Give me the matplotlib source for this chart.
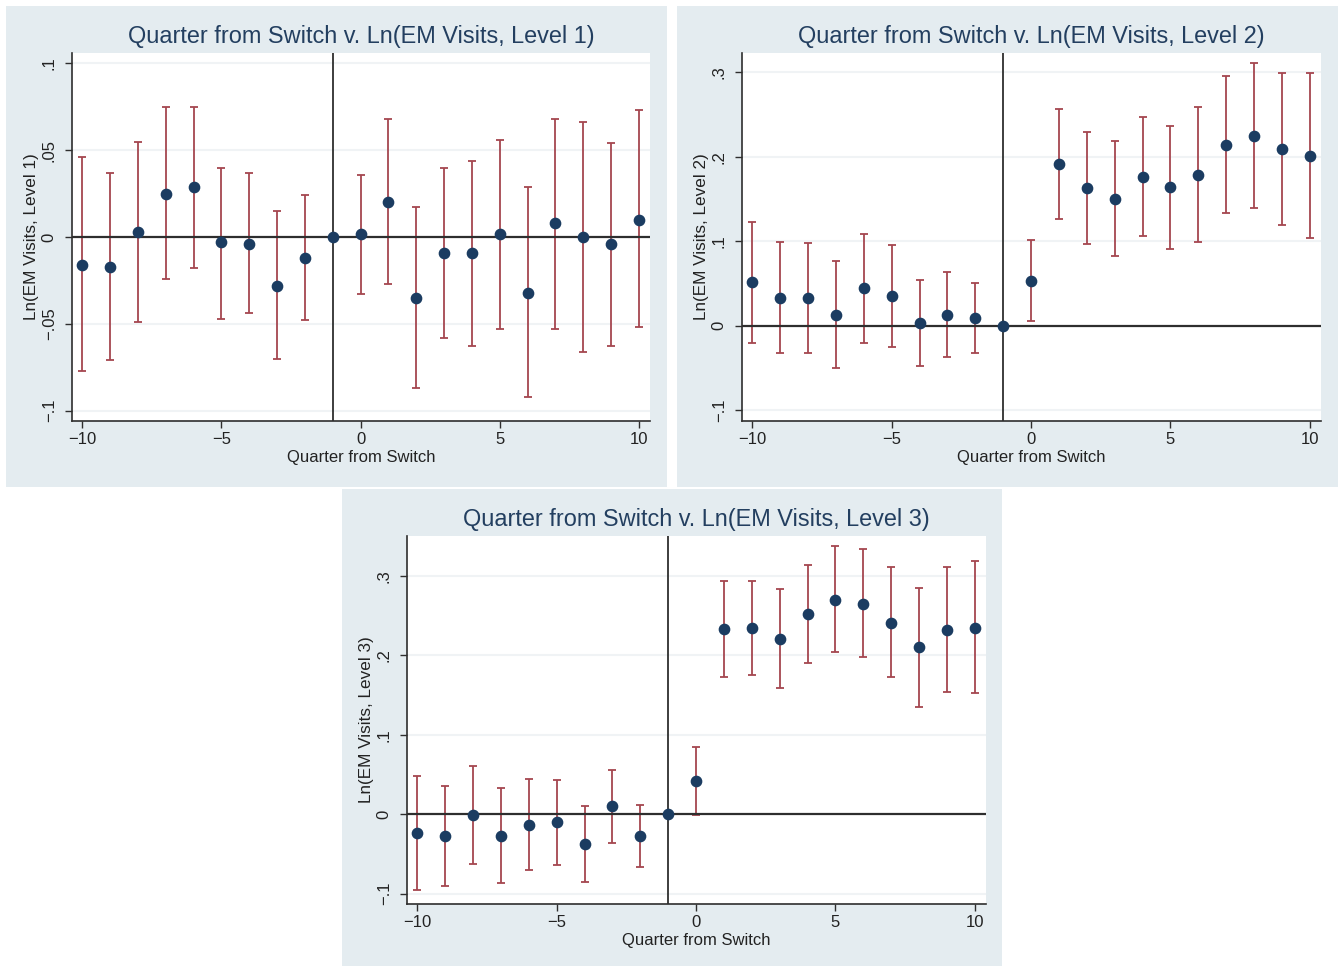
import numpy as np
import matplotlib
matplotlib.use("Agg")
import matplotlib.pyplot as plt
from matplotlib.patches import Rectangle

nan = np.nan

# ---------------- data ----------------
quarters = list(range(-10, 11))

lvl1_coef = [-0.016, -0.017, 0.003, 0.025, 0.029, -0.003, -0.004, -0.028, -0.012, 0.0,
             0.002, 0.020, -0.035, -0.009, -0.009, 0.002, -0.032, 0.008, 0.0, -0.004, 0.010]
lvl1_lo = [-0.077, -0.071, -0.049, -0.024, -0.018, -0.047, -0.044, -0.070, -0.048, nan,
           -0.033, -0.027, -0.087, -0.058, -0.063, -0.053, -0.092, -0.053, -0.066, -0.063, -0.052]
lvl1_hi = [0.046, 0.037, 0.055, 0.075, 0.075, 0.040, 0.037, 0.015, 0.024, nan,
           0.036, 0.068, 0.017, 0.040, 0.044, 0.056, 0.029, 0.068, 0.066, 0.054, 0.073]

lvl2_coef = [0.052, 0.033, 0.033, 0.013, 0.044, 0.035, 0.003, 0.013, 0.009, 0.0,
             0.053, 0.191, 0.163, 0.150, 0.176, 0.164, 0.179, 0.214, 0.225, 0.209, 0.201]
lvl2_lo = [-0.020, -0.032, -0.032, -0.050, -0.020, -0.025, -0.048, -0.037, -0.032, nan,
           0.006, 0.126, 0.097, 0.082, 0.106, 0.091, 0.099, 0.133, 0.139, 0.119, 0.104]
lvl2_hi = [0.123, 0.099, 0.098, 0.076, 0.109, 0.096, 0.054, 0.063, 0.050, nan,
           0.101, 0.257, 0.229, 0.219, 0.247, 0.237, 0.259, 0.296, 0.311, 0.299, 0.299]

lvl3_coef = [-0.024, -0.028, -0.001, -0.027, -0.013, -0.010, -0.038, 0.010, -0.028, 0.0,
             0.042, 0.233, 0.234, 0.221, 0.252, 0.270, 0.265, 0.241, 0.210, 0.232, 0.234]
lvl3_lo = [-0.096, -0.090, -0.063, -0.087, -0.070, -0.064, -0.085, -0.036, -0.066, nan,
           -0.001, 0.173, 0.175, 0.159, 0.190, 0.204, 0.198, 0.172, 0.135, 0.154, 0.152]
lvl3_hi = [0.048, 0.036, 0.061, 0.033, 0.044, 0.043, 0.010, 0.056, 0.011, nan,
           0.085, 0.293, 0.293, 0.283, 0.314, 0.337, 0.334, 0.311, 0.285, 0.311, 0.318]

x_ticks = [-10, -5, 0, 5, 10]
x_ticklabels = ["\u221210", "\u22125", "0", "5", "10"]
y1_ticks = [-0.1, -0.05, 0, 0.05, 0.1]
y1_ticklabels = ["\u2212.1", "\u2212.05", "0", ".05", ".1"]
y23_ticks = [-0.1, 0, 0.1, 0.2, 0.3]
y23_ticklabels = ["\u2212.1", "0", ".1", ".2", ".3"]

titles = ["Quarter from Switch v. Ln(EM Visits, Level 1)",
          "Quarter from Switch v. Ln(EM Visits, Level 2)",
          "Quarter from Switch v. Ln(EM Visits, Level 3)"]
ylabels = ["Ln(EM Visits, Level 1)", "Ln(EM Visits, Level 2)", "Ln(EM Visits, Level 3)"]
xlabel = "Quarter from Switch"
switch_quarter = -1

# ---------------- style ----------------
plt.rcParams['font.family'] = ['Liberation Sans', 'DejaVu Sans']
W, H = 1341, 966
fig = plt.figure(figsize=(W / 100, H / 100), dpi=100)
fig.patch.set_facecolor("white")

BG = "#e4ecf0"
BAR = "#a5464f"
DOT = "#1b3c61"
TITLE_C = "#233f60"
LINE_C = "#2e2e2e"
GRID_C = "#f0f3f5"


def px_rect(x0, y0, x1, y1):
    return (x0 / W, 1 - y1 / H, (x1 - x0) / W, (y1 - y0) / H)


panel_bgs = [(6, 6, 667, 487), (677, 6, 1338, 487), (342, 489, 1002, 966)]
axes_px = [(72, 53, 650, 421), (742, 53, 1321, 421), (407, 536, 986, 904)]
ylims = [(-0.106, 0.106), (-0.113, 0.323), (-0.113, 0.35)]
series = [(lvl1_coef, lvl1_lo, lvl1_hi, y1_ticks, y1_ticklabels),
          (lvl2_coef, lvl2_lo, lvl2_hi, y23_ticks, y23_ticklabels),
          (lvl3_coef, lvl3_lo, lvl3_hi, y23_ticks, y23_ticklabels)]

for i in range(3):
    bx = px_rect(*panel_bgs[i])
    fig.add_artist(Rectangle((bx[0], bx[1]), bx[2], bx[3], transform=fig.transFigure,
                             facecolor=BG, edgecolor="none", zorder=0))
    ax = fig.add_axes(px_rect(*axes_px[i]))
    ax.set_facecolor("white")
    coef, lo, hi, yt, ytl = series[i]
    q = np.array(quarters, dtype=float)
    c = np.array(coef, dtype=float)
    l = np.array(lo, dtype=float)
    h = np.array(hi, dtype=float)
    m = ~np.isnan(l)
    ax.errorbar(q[m], c[m], yerr=[c[m] - l[m], h[m] - c[m]], fmt="none",
                ecolor=BAR, elinewidth=1.3, capsize=3.0, capthick=1.3, zorder=2)
    ax.axhline(0, color=LINE_C, lw=1.6, zorder=2.5)
    ax.axvline(switch_quarter, color=LINE_C, lw=1.3, zorder=2.5)
    ax.plot(q, c, "o", color=DOT, ms=7.4, mec=DOT, zorder=3)

    ax.set_xlim(-10.37, 10.4)
    ax.set_ylim(*ylims[i])
    ax.set_xticks(x_ticks)
    ax.set_xticklabels(x_ticklabels, fontsize=12, color="#222222")
    ax.set_yticks(yt)
    ax.set_yticklabels(ytl, fontsize=12, color="#222222", rotation=90, va="center")
    for t in yt:
        if t != 0:
            ax.axhline(t, color=GRID_C, lw=1.5, zorder=1)
    ax.tick_params(axis="both", direction="out", length=5, width=1, color=LINE_C)
    ax.tick_params(axis="y", pad=6)
    ax.tick_params(axis="x", pad=3)
    for s in ["top", "right"]:
        ax.spines[s].set_visible(False)
    for s in ["left", "bottom"]:
        ax.spines[s].set_color(LINE_C)
        ax.spines[s].set_linewidth(1.2)
    ax.set_title(titles[i], fontsize=16.9, color=TITLE_C, pad=7)
    ax.set_xlabel(xlabel, fontsize=12, color="#222222", labelpad=2)
    ax.set_ylabel(ylabels[i], fontsize=12.3, color="#222222", labelpad=2)

fig.savefig("out.png", dpi=100, facecolor="white")
